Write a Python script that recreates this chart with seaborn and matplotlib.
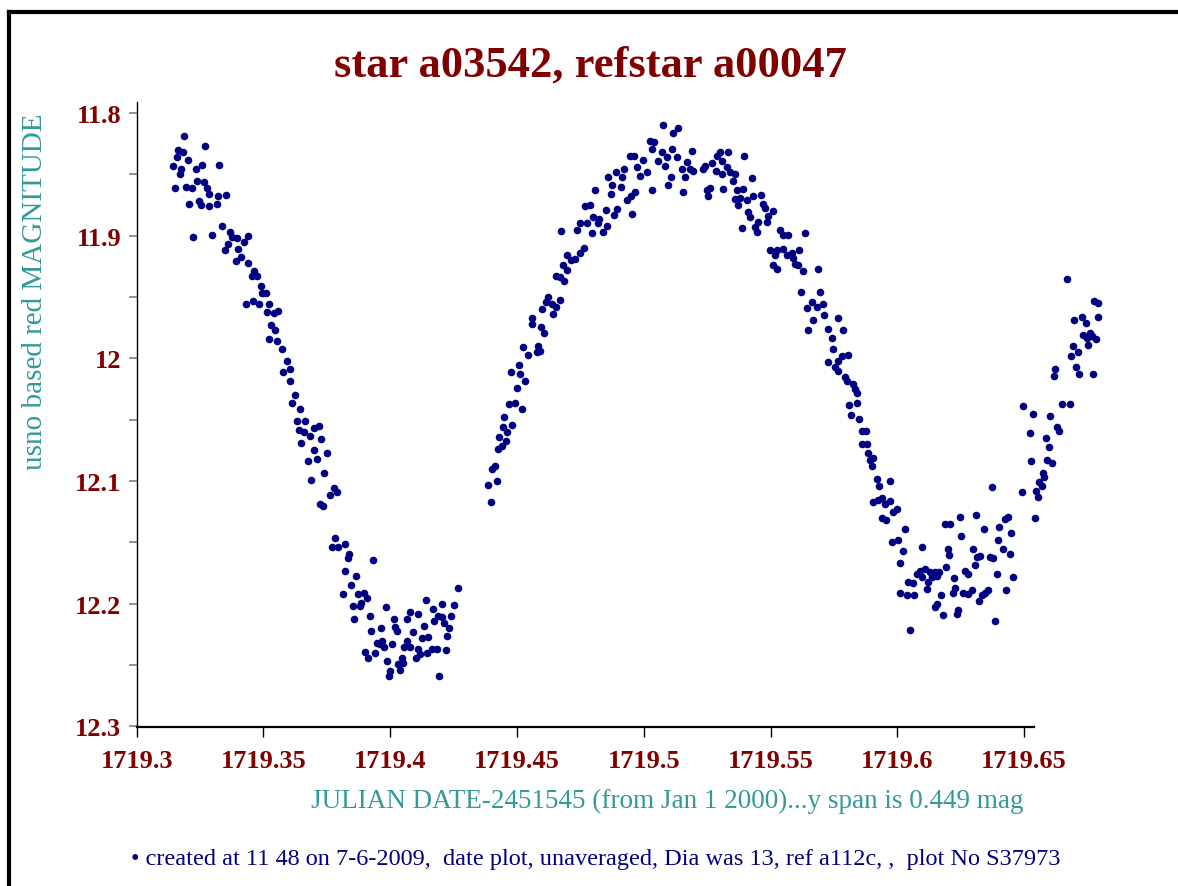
import pandas as pd
import numpy as np
import matplotlib
matplotlib.use("Agg")
import matplotlib.pyplot as plt
import seaborn as sns
from matplotlib.lines import Line2D

plt.rcParams['font.family'] = ['Liberation Serif', 'DejaVu Serif']

# julian date - 2451545
jd = [
    1719.3188, 1719.3268, 1719.3164, 1719.3184, 1719.3159, 1719.3202, 1719.3143, 1719.3175, 1719.3233, 1719.3257,
    1719.3326, 1719.3171, 1719.3238, 1719.3264, 1719.3152, 1719.3194, 1719.3219, 1719.3276, 1719.3286, 1719.3321,
    1719.3351, 1719.3206, 1719.3246, 1719.3254, 1719.3284, 1719.3315, 1719.3221, 1719.3296, 1719.3338, 1719.3368,
    1719.3377, 1719.3394, 1719.3440, 1719.3423, 1719.3361, 1719.3347, 1719.3401, 1719.3411, 1719.3390, 1719.3438,
    1719.3461, 1719.3453, 1719.3473, 1719.3490, 1719.3494, 1719.3510, 1719.3459, 1719.3431, 1719.3483, 1719.3522,
    1719.3513, 1719.3540, 1719.3557, 1719.3531, 1719.3544, 1719.3523, 1719.3552, 1719.3572, 1719.3594, 1719.3604,
    1719.3576, 1719.3606, 1719.3624, 1719.3614, 1719.3645, 1719.3632, 1719.3665, 1719.3639, 1719.3661, 1719.3682,
    1719.3699, 1719.3719, 1719.3727, 1719.3649, 1719.3699, 1719.3711, 1719.3750, 1719.3677, 1719.3739, 1719.3687,
    1719.3777, 1719.3762, 1719.3789, 1719.3736, 1719.3723, 1719.3781, 1719.3769, 1719.3795, 1719.3821, 1719.3838,
    1719.3832, 1719.3932, 1719.3820, 1719.3864, 1719.3844, 1719.3812, 1719.3871, 1719.3895, 1719.3907, 1719.3852,
    1719.3881, 1719.3884, 1719.3857, 1719.3920, 1719.3982, 1719.4015, 1719.4065, 1719.4078, 1719.4108, 1719.4141,
    1719.4170, 1719.4205, 1719.4251, 1719.4267, 1719.4187, 1719.4203, 1719.4238, 1719.4174, 1719.4213, 1719.4231,
    1719.4132, 1719.3963, 1719.3924, 1719.4017, 1719.4025, 1719.4091, 1719.4222, 1719.4125, 1719.4150, 1719.4067,
    1719.3946, 1719.3966, 1719.3959, 1719.4006, 1719.3976, 1719.4055, 1719.4078, 1719.4110, 1719.4144, 1719.4163,
    1719.4183, 1719.4220, 1719.3900, 1719.3940, 1719.3913, 1719.4117, 1719.4101, 1719.4045, 1719.3986, 1719.4032,
    1719.4049, 1719.4038, 1719.3999, 1719.3994, 1719.4192, 1719.4396, 1719.4386, 1719.4420, 1719.4400, 1719.4413,
    1719.4426, 1719.4439, 1719.4456, 1719.4430, 1719.4461, 1719.4443, 1719.4480, 1719.4448, 1719.4469, 1719.4492,
    1719.4518, 1719.4500, 1719.4531, 1719.4511, 1719.4476, 1719.4507, 1719.4524, 1719.4542, 1719.4577, 1719.4584,
    1719.4590, 1719.4606, 1719.4593, 1719.4558, 1719.4560, 1719.4599, 1719.4621, 1719.4614, 1719.4636, 1719.4653,
    1719.4669, 1719.4640, 1719.4653, 1719.4686, 1719.4669, 1719.4698, 1719.4680, 1719.4696, 1719.4711, 1719.4728,
    1719.4748, 1719.4765, 1719.4673, 1719.4737, 1719.4748, 1719.4774, 1719.4794, 1719.4838, 1719.4798, 1719.4824,
    1719.4820, 1719.4853, 1719.4768, 1719.4787, 1719.4851, 1719.4883, 1719.4893, 1719.4952, 1719.4808, 1719.4871,
    1719.4873, 1719.4909, 1719.4932, 1719.4948, 1719.4965, 1719.4860, 1719.4889, 1719.4912, 1719.4922, 1719.4972,
    1719.4985, 1719.5011, 1719.4998, 1719.4945, 1719.4962, 1719.5033, 1719.5024, 1719.5041, 1719.5031, 1719.5070,
    1719.5054, 1719.5083, 1719.5074, 1719.5096, 1719.5090, 1719.5116, 1719.5136, 1719.5110, 1719.5188, 1719.5129,
    1719.5169, 1719.5149, 1719.5182, 1719.5195, 1719.5107, 1719.5162, 1719.5155, 1719.5241, 1719.5234, 1719.5267,
    1719.5287, 1719.5300, 1719.5333, 1719.5307, 1719.5327, 1719.5284, 1719.5307, 1719.5339, 1719.5359, 1719.5350,
    1719.5396, 1719.5425, 1719.5248, 1719.5261, 1719.5254, 1719.5313, 1719.5366, 1719.5392, 1719.5379, 1719.5359,
    1719.5372, 1719.5405, 1719.5431, 1719.5461, 1719.5471, 1719.5478, 1719.5412, 1719.5418, 1719.5451, 1719.5438,
    1719.5445, 1719.5386, 1719.5491, 1719.5510, 1719.5484, 1719.5537, 1719.5550, 1719.5569, 1719.5635, 1719.5497,
    1719.5517, 1719.5524, 1719.5550, 1719.5563, 1719.5583, 1719.5589, 1719.5613, 1719.5510, 1719.5524, 1719.5596,
    1719.5609, 1719.5629, 1719.5685, 1719.5619, 1719.5694, 1719.5642, 1719.5662, 1719.5681, 1719.5707, 1719.5711,
    1719.5767, 1719.5668, 1719.5648, 1719.5727, 1719.5741, 1719.5747, 1719.5764, 1719.5727, 1719.5754, 1719.5767,
    1719.5780, 1719.5806, 1719.5786, 1719.5793, 1719.5800, 1719.5826, 1719.5832, 1719.5842, 1719.5810, 1719.5839,
    1719.5815, 1719.5848, 1719.5859, 1719.5876, 1719.5859, 1719.5879, 1719.5885, 1719.5905, 1719.5892, 1719.5898,
    1719.5918, 1719.5928, 1719.5970, 1719.5905, 1719.5924, 1719.5938, 1719.5951, 1719.5970, 1719.5983, 1719.5997,
    1719.5938, 1719.5955, 1719.6030, 1719.5977, 1719.6003, 1719.6023, 1719.6010, 1719.6522, 1719.6526, 1719.6373,
    1719.6492, 1719.6542, 1719.6246, 1719.6310, 1719.6187, 1719.6207, 1719.6341, 1719.6250, 1719.6401, 1719.6424,
    1719.6437, 1719.6446, 1719.6397, 1719.6095, 1719.6198, 1719.6204, 1719.6299, 1719.6415, 1719.6444, 1719.6325,
    1719.6315, 1719.6365, 1719.6378, 1719.6306, 1719.6190, 1719.6266, 1719.6279, 1719.6391, 1719.6454, 1719.6223,
    1719.6076, 1719.6089, 1719.6108, 1719.6095, 1719.6128, 1719.6135, 1719.6148, 1719.6165, 1719.6155, 1719.6121,
    1719.6043, 1719.6062, 1719.6010, 1719.6036, 1719.6065, 1719.6115, 1719.6227, 1719.6218, 1719.6260, 1719.6279,
    1719.6293, 1719.6172, 1719.6332, 1719.6358, 1719.6345, 1719.6427, 1719.6321, 1719.6155, 1719.6148, 1719.6240,
    1719.6236, 1719.6178, 1719.6383, 1719.6049, 1719.6667, 1719.6696, 1719.6727, 1719.6691, 1719.6683, 1719.6713,
    1719.6704, 1719.6717, 1719.6621, 1719.6617, 1719.6650, 1719.6680, 1719.6496, 1719.6535, 1719.6601, 1719.6628,
    1719.6638, 1719.6586, 1719.6596, 1719.6591, 1719.6610, 1719.6573, 1719.6578, 1719.6559, 1719.6569, 1719.6546,
    1719.6555, 1719.6776, 1719.6789, 1719.6742, 1719.6792, 1719.6733, 1719.6759, 1719.6766, 1719.6746, 1719.6783,
    1719.6752, 1719.6772,
]

# usno based red magnitude
mag = [
    11.819, 11.827, 11.830, 11.832, 11.836, 11.838, 11.843, 11.846, 11.846, 11.842,
    11.842, 11.850, 11.855, 11.856, 11.861, 11.860, 11.861, 11.861, 11.866, 11.868,
    11.867, 11.874, 11.872, 11.875, 11.876, 11.874, 11.901, 11.899, 11.892, 11.897,
    11.901, 11.902, 11.900, 11.905, 11.907, 11.912, 11.911, 11.917, 11.921, 11.922,
    11.929, 11.933, 11.933, 11.941, 11.947, 11.947, 11.953, 11.956, 11.956, 11.956,
    11.962, 11.963, 11.961, 11.973, 11.977, 11.984, 11.986, 11.992, 12.002, 12.009,
    12.011, 12.018, 12.030, 12.036, 12.041, 12.051, 12.051, 12.058, 12.060, 12.063,
    12.057, 12.055, 12.066, 12.069, 12.075, 12.082, 12.077, 12.084, 12.093, 12.099,
    12.106, 12.111, 12.109, 12.120, 12.119, 12.146, 12.154, 12.154, 12.151, 12.159,
    12.163, 12.164, 12.173, 12.177, 12.185, 12.192, 12.192, 12.191, 12.195, 12.202,
    12.202, 12.199, 12.212, 12.210, 12.203, 12.212, 12.212, 12.207, 12.208, 12.197,
    12.204, 12.200, 12.201, 12.187, 12.210, 12.211, 12.210, 12.214, 12.216, 12.220,
    12.218, 12.220, 12.222, 12.219, 12.222, 12.223, 12.226, 12.228, 12.227, 12.230,
    12.232, 12.230, 12.233, 12.233, 12.235, 12.235, 12.235, 12.237, 12.240, 12.237,
    12.237, 12.238, 12.239, 12.240, 12.244, 12.241, 12.244, 12.244, 12.247, 12.249,
    12.248, 12.254, 12.255, 12.259, 12.259, 12.117, 12.103, 12.100, 12.090, 12.088,
    12.074, 12.071, 12.067, 12.064, 12.060, 12.056, 12.054, 12.048, 12.037, 12.036,
    12.041, 12.024, 12.018, 12.013, 12.011, 12.005, 11.991, 11.997, 11.995, 11.990,
    11.994, 11.979, 11.974, 11.967, 11.972, 11.960, 11.950, 11.954, 11.956, 11.958,
    11.952, 11.964, 11.933, 11.937, 11.934, 11.928, 11.924, 11.916, 11.920, 11.919,
    11.914, 11.910, 11.896, 11.895, 11.890, 11.890, 11.898, 11.897, 11.885, 11.886,
    11.890, 11.892, 11.876, 11.875, 11.879, 11.883, 11.878, 11.882, 11.863, 11.866,
    11.859, 11.860, 11.871, 11.868, 11.864, 11.852, 11.848, 11.852, 11.846, 11.844,
    11.851, 11.848, 11.838, 11.835, 11.835, 11.863, 11.823, 11.824, 11.829, 11.832,
    11.839, 11.843, 11.810, 11.859, 11.836, 11.816, 11.812, 11.829, 11.831, 11.836,
    11.840, 11.846, 11.846, 11.847, 11.852, 11.852, 11.864, 11.843, 11.846, 11.841,
    11.835, 11.832, 11.832, 11.839, 11.844, 11.847, 11.850, 11.848, 11.850, 11.855,
    11.835, 11.853, 11.863, 11.861, 11.868, 11.862, 11.863, 11.862, 11.869, 11.870,
    11.875, 11.871, 11.868, 11.867, 11.874, 11.877, 11.881, 11.885, 11.889, 11.893,
    11.897, 11.894, 11.884, 11.880, 11.889, 11.895, 11.899, 11.899, 11.898, 11.912,
    11.916, 11.912, 11.911, 11.916, 11.914, 11.918, 11.912, 11.924, 11.927, 11.923,
    11.924, 11.929, 11.927, 11.946, 11.946, 11.959, 11.954, 11.958, 11.956, 11.965,
    11.967, 11.969, 11.977, 11.976, 11.983, 11.992, 12.002, 12.003, 12.007, 12.010,
    11.998, 11.997, 11.977, 12.015, 12.018, 12.021, 12.025, 12.028, 12.038, 12.036,
    12.046, 12.049, 12.059, 12.059, 12.070, 12.070, 12.077, 12.081, 12.083, 12.088,
    12.098, 12.104, 12.100, 12.117, 12.115, 12.114, 12.119, 12.116, 12.125, 12.123,
    12.130, 12.132, 12.139, 12.150, 12.148, 12.157, 12.167, 12.061, 12.084, 12.105,
    12.109, 12.130, 12.129, 12.128, 12.135, 12.135, 12.139, 12.145, 12.137, 12.131,
    12.129, 12.142, 12.148, 12.154, 12.155, 12.160, 12.155, 12.155, 12.159, 12.161,
    12.162, 12.162, 12.163, 12.168, 12.170, 12.173, 12.176, 12.176, 12.178, 12.179,
    12.176, 12.173, 12.172, 12.178, 12.174, 12.178, 12.174, 12.174, 12.177, 12.182,
    12.182, 12.183, 12.191, 12.193, 12.193, 12.188, 12.187, 12.191, 12.191, 12.192,
    12.189, 12.193, 12.193, 12.189, 12.191, 12.189, 12.198, 12.200, 12.203, 12.205,
    12.208, 12.209, 12.214, 12.221, 11.935, 11.969, 11.966, 11.990, 11.998, 11.995,
    12.007, 12.013, 12.009, 12.014, 12.037, 12.037, 12.039, 12.045, 12.047, 12.056,
    12.059, 12.065, 12.072, 12.083, 12.085, 12.093, 12.097, 12.101, 12.104, 12.108,
    12.113, 11.953, 11.955, 11.971, 11.966, 11.981, 11.979, 11.982, 11.983, 11.984,
    11.989, 12.013,
]

x_ticks = [1719.3, 1719.35, 1719.4, 1719.45, 1719.5, 1719.55, 1719.6, 1719.65]
x_labels = ['1719.3', '1719.35', '1719.4', '1719.45', '1719.5', '1719.55', '1719.6', '1719.65']
y_ticks = [11.8, 11.9, 12.0, 12.1, 12.2, 12.3]
y_labels = ['11.8', '11.9', '12', '12.1', '12.2', '12.3']
y_minor = [11.85, 11.95, 12.05, 12.15, 12.25]

df = pd.DataFrame({'jd': jd, 'mag': mag})

W, H = 1178, 887
fig = plt.figure(figsize=(W / 100, H / 100), dpi=100)
fig.patch.set_facecolor('white')

# axes placed in pixels: left spine x=137, bottom y=727, top y=103
ax = fig.add_axes([136.7 / W, (H - 727.5) / H, (1113 - 136.7) / W, (727.5 - 103) / H])
ax.set_facecolor('white')

sns.scatterplot(data=df, x='jd', y='mag', color='#000080', s=30, linewidth=0, ax=ax)

ax.set_xlim(1719.3, 1719.685)
ax.set_ylim(12.3, 11.791)
ax.set_xlabel('')
ax.set_ylabel('')

for side in ['top', 'right']:
    ax.spines[side].set_visible(False)
ax.spines['bottom'].set_bounds(1719.3, 1719.654)
ax.spines['bottom'].set_linewidth(1.6)
ax.spines['left'].set_linewidth(1.0)

ax.set_xticks(x_ticks, x_labels, fontweight='bold')
ax.set_yticks(y_ticks, y_labels, fontweight='bold')
ax.set_yticks(y_minor, minor=True)
ax.tick_params(axis='x', direction='out', length=7, width=1, color='black',
               pad=9, labelsize=19, labelcolor='#800000')
ax.tick_params(axis='y', which='both', direction='out', length=6, width=1.2, color='#808080',
               pad=5, labelsize=19, labelcolor='#800000')

# text
fig.text(590 / W, 1 - 66 / H, 'star a03542, refstar a00047', ha='center', va='center',
         fontsize=32, fontweight='bold', color='#800000')
fig.text(35 / W, 1 - 292 / H, 'usno based red MAGNITUDE', ha='center', va='center',
         rotation=90, fontsize=21, color='#339999')
fig.text(667 / W, 1 - 801 / H, 'JULIAN DATE-2451545 (from Jan 1 2000)...y span is 0.449 mag',
         ha='center', va='center', fontsize=19.5, color='#339999')
fig.text(596 / W, 1 - 860 / H,
         '\u2022 created at 11 48 on 7-6-2009,  date plot, unaveraged, Dia was 13, ref a112c, ,  plot No S37973',
         ha='center', va='center', fontsize=17.5, color='#000080')

# frame round the picture (left and top edges only show)
fig.add_artist(Line2D([9 / W, 9 / W], [0, 1 - 13 / H], transform=fig.transFigure,
                      color='black', linewidth=3))
fig.add_artist(Line2D([9 / W, 1], [1 - 13 / H, 1 - 13 / H], transform=fig.transFigure,
                      color='black', linewidth=3))

fig.savefig('out.png', dpi=100, facecolor='white')
